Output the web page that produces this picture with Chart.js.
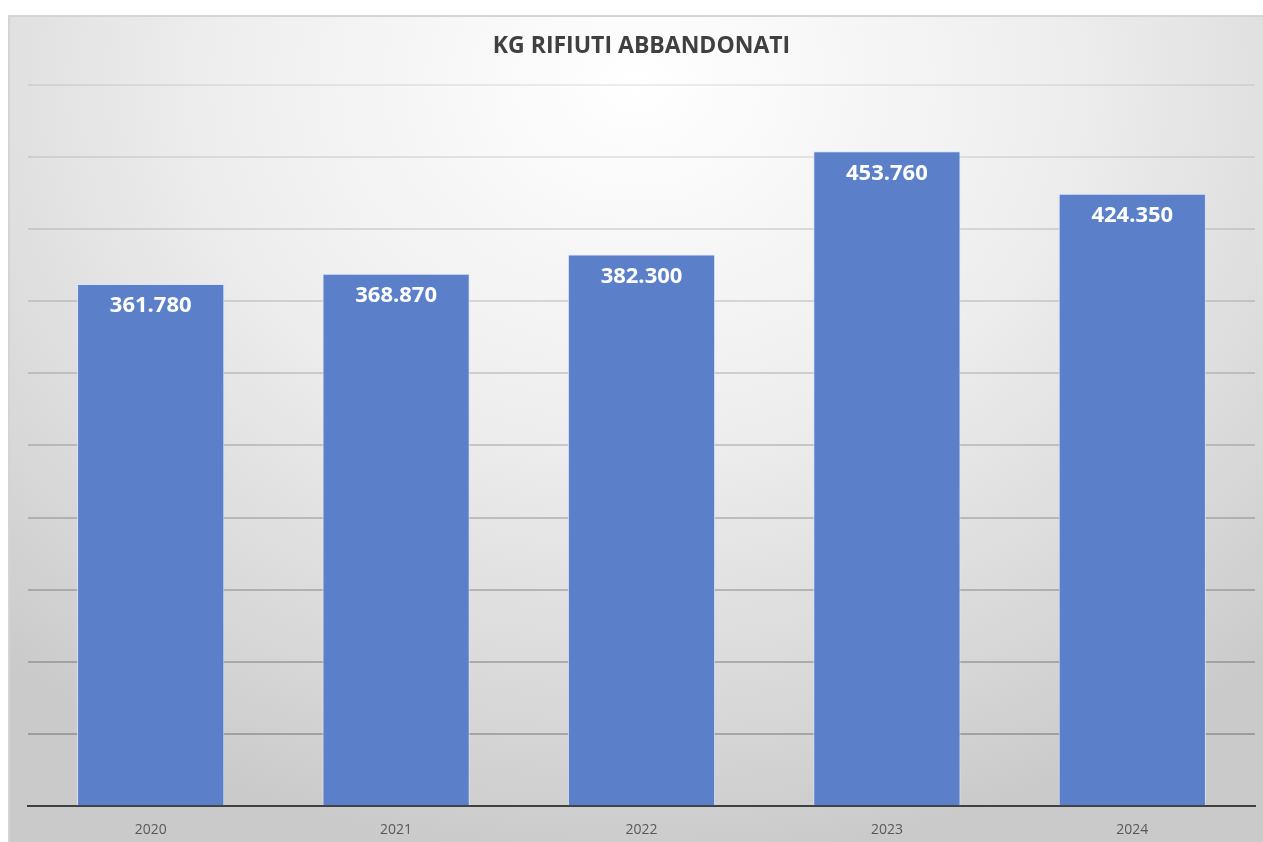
<!DOCTYPE html>
<html>
<head>
<meta charset="utf-8">
<script src="https://cdn.jsdelivr.net/npm/chart.js@4"></script>
<style>
html,body{margin:0;padding:0;background:#fff;}
#panel{
position:absolute;left:8px;top:15px;width:1255px;height:827px;
box-sizing:border-box;border-top:2px solid #d4d4d4;border-left:2px solid #d4d4d4;
background:radial-gradient(ellipse 75% 95% at 50% 8%, #ffffff 0%, #eeeeee 45%, #d8d8d8 80%, #cacaca 100%);
}
#wrap{position:absolute;left:-2px;top:-2px;width:1255px;height:827px;}
</style>
</head>
<body>
<div id="panel"><div id="wrap"><canvas id="chart"></canvas></div></div>
<script>
// DATA
var years = ["2020","2021","2022","2023","2024"];
var kg = [361780, 368870, 382300, 453760, 424350];
var yMax = 500000;
var yStep = 50000;

function fmt(v){
return String(v).replace(/\B(?=(\d{3})+(?!\d))/g, ".");
}

// labels inside the top of each bar
var barLabels = {
id:"barLabels",
afterDatasetsDraw(c){
let ctx = c.ctx;
let meta = c.getDatasetMeta(0);
ctx.save();
ctx.fillStyle = "#ffffff";
ctx.font = "bold 22px 'Open Sans', sans-serif";
ctx.textAlign = "center";
ctx.textBaseline = "middle";
meta.data.forEach(function(bar,i){
ctx.fillText(fmt(kg[i]), bar.x, bar.y + 22);
});
ctx.restore();
}
};

new Chart(document.getElementById("chart"),{
type:"bar",
data:{
labels:years,
datasets:[{
data:kg,
backgroundColor:"#5b80c9",
borderColor:"rgba(215,228,250,0.9)",
borderWidth:1,
categoryPercentage:0.6,
barPercentage:1
}]
},
options:{
responsive:true,
maintainAspectRatio:false,
animation:false,
layout:{padding:{left:20,right:8,top:0,bottom:-11}},
plugins:{
legend:{display:false},
tooltip:{enabled:false},
title:{
display:true,
text:"KG RIFIUTI ABBANDONATI",
color:"#404040",
font:{family:"'Open Sans', sans-serif",size:23,weight:"bold"},
padding:{top:18,bottom:24}
}
},
scales:{
x:{
grid:{display:false,drawTicks:false},
border:{display:true,color:"#404040",width:2},
ticks:{color:"#595959",font:{family:"'Open Sans', sans-serif",size:14},padding:15}
},
y:{
min:0,max:yMax,
ticks:{display:false,stepSize:yStep},
border:{display:false},
grid:{
drawTicks:false,
lineWidth:2,
color:function(ctx){
let t = ctx.tick ? ctx.tick.value / yMax : 0;
let a = 0.34 - 0.25*t;
return "rgba(60,60,60,"+a.toFixed(3)+")";
}
}
}
}
},
plugins:[barLabels]
});
</script>
</body>
</html>
